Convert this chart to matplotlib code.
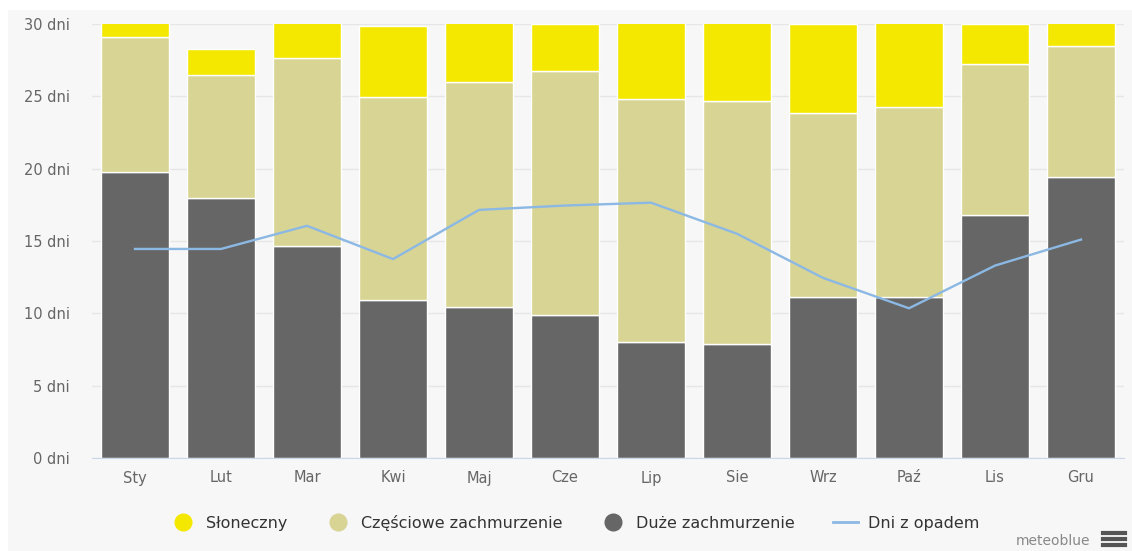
import matplotlib.pyplot as plt
from matplotlib.patches import Rectangle
from matplotlib.lines import Line2D
import numpy as np

months = ['Sty', 'Lut', 'Mar', 'Kwi', 'Maj', 'Cze', 'Lip', 'Sie', 'Wrz', 'Paź', 'Lis', 'Gru']
overcast = [19.8, 18.0, 14.65, 10.9, 10.45, 9.9, 8.05, 7.9, 11.15, 11.15, 16.8, 19.4]
partly = [9.3, 8.5, 13.0, 14.05, 15.55, 16.85, 16.8, 16.8, 12.7, 13.1, 10.45, 9.05]
sunny = [1.9, 1.75, 3.35, 4.9, 5.0, 3.25, 6.15, 6.3, 6.15, 6.75, 2.75, 2.55]
precip = [14.45, 14.45, 16.05, 13.75, 17.15, 17.45, 17.65, 15.5, 12.45, 10.35, 13.3, 15.1]
yticks = [0, 5, 10, 15, 20, 25, 30]

c_sun = '#f5e800'
c_part = '#d8d494'
c_over = '#666666'
c_line = '#8cb8e4'
bg = '#f7f7f7'


def main():
    fig = plt.figure(figsize=(11.32, 5.51), dpi=100)
    fig.patches.append(Rectangle((8 / 1132, 0), 1, 1 - 10 / 551, transform=fig.transFigure,
                                 facecolor=bg, edgecolor='none', zorder=-10))
    ax = fig.add_axes([92 / 1132, 1 - 458 / 551, 1032 / 1132, 434 / 551])
    ax.set_facecolor(bg)

    x = np.arange(len(months))
    over = np.array(overcast)
    part = np.array(partly)
    sun = np.array(sunny)
    kw = dict(width=0.8, edgecolor='white', linewidth=1, zorder=2)
    ax.bar(x, over, color=c_over, **kw)
    ax.bar(x, part, bottom=over, color=c_part, **kw)
    ax.bar(x, sun, bottom=over + part, color=c_sun, **kw)
    ax.plot(x, precip, color=c_line, linewidth=1.7, zorder=3)

    ax.set_xlim(-0.5, 11.5)
    ax.set_ylim(0, 30)
    ax.set_yticks(yticks)
    ax.set_yticklabels([f'{v} dni' for v in yticks])
    ax.set_xticks(x)
    ax.set_xticklabels(months)
    ax.grid(axis='y', color='#e6e6e6', linewidth=1, zorder=0)
    ax.set_axisbelow(True)
    for s in ['top', 'right', 'left']:
        ax.spines[s].set_visible(False)
    ax.spines['bottom'].set_color('#ccd6eb')
    ax.tick_params(axis='both', length=0, colors='#666666', labelsize=10.5)
    ax.tick_params(axis='x', pad=9)
    ax.tick_params(axis='y', pad=16)

    handles = [
        Line2D([], [], marker='o', linestyle='none', markersize=12, color=c_sun, label='Słoneczny'),
        Line2D([], [], marker='o', linestyle='none', markersize=12, color=c_part, label='Częściowe zachmurzenie'),
        Line2D([], [], marker='o', linestyle='none', markersize=12, color=c_over, label='Duże zachmurzenie'),
        Line2D([], [], color=c_line, linewidth=2, label='Dni z opadem'),
    ]
    leg = fig.legend(handles=handles, loc='center', bbox_to_anchor=(575 / 1132, 1 - 523 / 551),
                     ncol=4, frameon=False, fontsize=11.5, handlelength=1.6, columnspacing=2.4,
                     handletextpad=0.6)
    for t in leg.get_texts():
        t.set_color('#333333')

    fig.text(1090 / 1132, 1 - 541 / 551, 'meteoblue', ha='right', va='center', color='#888888', fontsize=10)
    for dy in (-6, 0, 6):
        fig.add_artist(Line2D([1103 / 1132, 1125 / 1132], [1 - (539 + dy) / 551] * 2,
                              transform=fig.transFigure, color='#555555', linewidth=3))

    fig.savefig('out.png', dpi=100)


if __name__ == '__main__':
    main()
